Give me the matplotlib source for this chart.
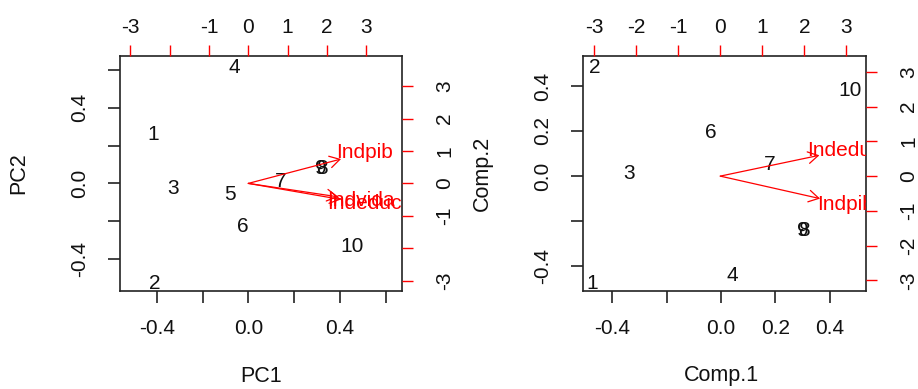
import matplotlib
matplotlib.use("Agg")
import matplotlib.pyplot as plt
from matplotlib.patches import FancyArrowPatch

plt.rcParams["font.family"] = ["Liberation Sans", "DejaVu Sans"]

# Observation labels
obs = ["1", "2", "3", "4", "5", "6", "7", "8", "9", "10"]

# prcomp scores (PC1, PC2)
pc1 = [-0.415, -0.411, -0.330, -0.061, -0.080, -0.022, 0.143, 0.321, 0.318, 0.455]
pc2 = [0.256, -0.530, -0.026, 0.612, -0.058, -0.226, 0.012, 0.079, 0.081, -0.332]

# prcomp loadings
vars_a = ["Indpib", "Indvida", "Indeduc"]
load_a1 = [2.95, 2.86, 2.95]
load_a2 = [0.94, -0.52, -0.62]

# princomp scores (Comp.1, Comp.2)
comp1 = [-0.474, -0.466, -0.339, 0.043, None, -0.038, 0.178, 0.305, 0.303, 0.475]
comp2 = [-0.477, 0.481, 0.012, -0.440, None, 0.194, 0.052, -0.243, -0.241, 0.378]

# princomp loadings
vars_b = ["Indeduc", "Indpib"]
load_b1 = [2.95, 2.97]
load_b2 = [0.75, -0.81]

RED = "#FF0000"
FS_TICK = 15
FS_PT = 15
FS_LAB = 15.5
W, H = 918, 389


def px_text(x, y, s, rot=0):
    fig.text(x / W, 1 - y / H, s, ha="center", va="center", rotation=rot,
             fontsize=FS_LAB, color="#111111")


def biplot(pos, xs, ys, lx, ly, names, lims, lims2,
           xticks, xtl, yticks, ytl, tticks, ttl, rticks, rtl):
    ax = fig.add_axes(pos)
    ax.set_xlim(*lims[0])
    ax.set_ylim(*lims[1])
    for s in ax.spines.values():
        s.set_linewidth(1.2)
        s.set_color("#222222")
    ax.set_xticks(xticks)
    ax.set_xticklabels(xtl, fontsize=FS_TICK)
    ax.set_yticks(yticks)
    ax.set_yticklabels(ytl, fontsize=FS_TICK, rotation=90, va="center")
    ax.tick_params(axis="both", direction="out", length=8.4, width=1.2,
                   color="#222222", labelcolor="#111111")
    ax.tick_params(axis="x", pad=12)
    ax.tick_params(axis="y", pad=14)
    for t, x, y in zip(obs, xs, ys):
        if x is None:
            continue
        ax.text(x, y, t, ha="center", va="center", fontsize=FS_PT,
                color="#111111", clip_on=True)

    ax2 = fig.add_axes(pos)
    ax2.patch.set_visible(False)
    for s in ax2.spines.values():
        s.set_visible(False)
    ax2.set_xlim(*lims2[0])
    ax2.set_ylim(*lims2[1])
    ax2.xaxis.tick_top()
    ax2.yaxis.tick_right()
    ax2.set_xticks(tticks)
    ax2.set_xticklabels(ttl, fontsize=FS_TICK)
    ax2.set_yticks(rticks)
    ax2.set_yticklabels(rtl, fontsize=FS_TICK, rotation=90, va="center")
    ax2.tick_params(axis="both", direction="out", length=8.0, width=1.0,
                    color=RED, labelcolor="#111111")
    ax2.tick_params(axis="x", pad=6)
    ax2.tick_params(axis="y", pad=16)
    for name, a, b in zip(names, lx, ly):
        arr = FancyArrowPatch((0, 0), (0.8 * a, 0.8 * b),
                              arrowstyle="->,head_length=0.72,head_width=0.42",
                              mutation_scale=10, color=RED, lw=0.9,
                              shrinkA=0, shrinkB=0)
        ax2.add_patch(arr)
        ax2.text(a, b, name, ha="center", va="center", fontsize=FS_PT,
                 color=RED, clip_on=True)
    return ax, ax2


fig = plt.figure(figsize=(9.18, 3.89), dpi=100)

biplot([0.1307, 0.2519, 0.3072, 0.6041], pc1, pc2, load_a1, load_a2, vars_a,
       ((-0.561, 0.672), (-0.570, 0.674)), ((-3.265, 3.91), (-3.32, 3.93)),
       [-0.4, -0.2, 0.0, 0.2, 0.4, 0.6], ["-0.4", "", "0.0", "", "0.4", ""],
       [-0.4, -0.2, 0.0, 0.2, 0.4, 0.6], ["-0.4", "", "0.0", "", "0.4", ""],
       [-3, -2, -1, 0, 1, 2, 3], ["-3", "", "-1", "0", "1", "2", "3"],
       [-3, -2, -1, 0, 1, 2, 3], ["-3", "", "-1", "0", "1", "2", "3"])
px_text(261, 376, "PC1")
px_text(19, 173, "PC2", rot=90)

biplot([0.6354, 0.2519, 0.3080, 0.6041], comp1, comp2, load_b1, load_b2, vars_b,
       ((-0.507, 0.534), (-0.511, 0.533)), ((-3.26, 3.47), (-3.31, 3.46)),
       [-0.4, -0.2, 0.0, 0.2, 0.4], ["-0.4", "", "0.0", "0.2", "0.4"],
       [-0.4, -0.2, 0.0, 0.2, 0.4], ["-0.4", "", "0.0", "0.2", "0.4"],
       [-3, -2, -1, 0, 1, 2, 3], ["-3", "-2", "-1", "0", "1", "2", "3"],
       [-3, -2, -1, 0, 1, 2, 3], ["-3", "-2", "-1", "0", "1", "2", "3"])
px_text(721, 376, "Comp.1")
px_text(482, 173, "Comp.2", rot=90)

fig.savefig("out.png", dpi=100)
